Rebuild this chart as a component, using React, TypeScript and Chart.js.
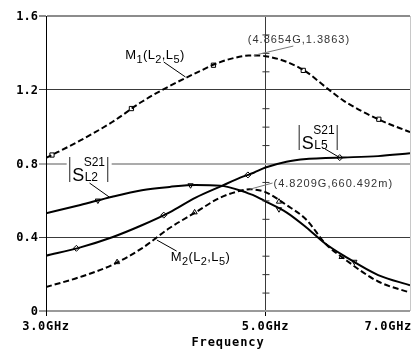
import React, { useEffect, useRef } from "react";
import { Chart, registerables } from "chart.js";
Chart.register(...registerables);

// ---- data (GHz, magnitude) ----
const freqs = [3.0, 3.25, 3.5, 3.75, 4.0, 4.25, 4.5, 4.75, 4.8209, 4.8654, 5.0, 5.25, 5.5, 5.75, 6.0, 6.5, 7.0];
const m1Vals = [0.83, 0.925, 1.025, 1.135, 1.22, 1.29, 1.35, 1.383, 1.3858, 1.3863, 1.382, 1.352, 1.297, 1.215, 1.14, 1.04, 0.97];
const s21L2Vals = [0.53, 0.575, 0.62, 0.655, 0.673, 0.684, 0.68, 0.648, 0.635, 0.627, 0.595, 0.535, 0.453, 0.365, 0.30, 0.195, 0.14];
const s21L5Vals = [0.30, 0.345, 0.40, 0.465, 0.535, 0.615, 0.675, 0.73, 0.742, 0.75, 0.778, 0.81, 0.825, 0.83, 0.833, 0.84, 0.855];
const m2Vals = [0.13, 0.185, 0.25, 0.34, 0.45, 0.535, 0.615, 0.656, 0.6605, 0.659, 0.645, 0.575, 0.495, 0.365, 0.285, 0.16, 0.10];

// marker symbols along the curves
const m1MarkFreqs = [3.042, 3.66, 4.43, 5.46, 6.51];
const m1MarkVals = [0.846, 1.098, 1.333, 1.305, 1.04];
const l2MarkFreqs = [3.385, 4.2, 5.16, 6.15];
const l2MarkVals = [0.599, 0.682, 0.552, 0.267];
const l5MarkFreqs = [3.22, 3.946, 4.8, 5.944];
const l5MarkVals = [0.34, 0.52, 0.738, 0.832];
const m2MarkFreqs = [3.54, 4.24, 5.16, 5.97];
const m2MarkVals = [0.265, 0.535, 0.593, 0.293];

const xTicks = [3, 5, 7];
const xTickLabels = ["3.0GHz", "5.0GHz", "7.0GHz"];
const yTicks = [0, 0.4, 0.8, 1.2, 1.6];
const yTickLabels = ["0", "0.4", "0.8", "1.2", "1.6"];
const xTitle = "Frequency";

const peak1 = { f: 4.8654, v: 1.3863, label: "(4.8654G,1.3863)" };
const peak2 = { f: 4.8209, v: 0.660492, label: "(4.8209G,660.492m)" };

const MONO = '"DejaVu Sans Mono", monospace';
const SANS = '"Liberation Sans", Arial, sans-serif';

const near = (a: number, b: number) => Math.abs(a - b) < 1e-6;

const yGridColor = (v: number) =>
  near(v, 0) ? "#9a9a9a" : near(v, 0.8) ? "#ababab" : near(v, 1.6) ? "#8c8c8c" : "#3a3a3a";
const yGridWidth = (v: number) => (near(v, 0) || near(v, 0.8) || near(v, 1.6) ? 2 : 1);

function rich(ctx: CanvasRenderingContext2D, x: number, y: number, parts: { t: string; s: number; dy?: number }[]) {
  let cx = x;
  for (const p of parts) {
    ctx.font = `${p.s}px ${SANS}`;
    ctx.fillText(p.t, cx, y + (p.dy || 0));
    cx += ctx.measureText(p.t).width + 0.4;
  }
}

function sLabel(ctx: CanvasRenderingContext2D, x: number, y: number, sub: string, bg: boolean) {
  if (bg) {
    ctx.fillStyle = "#fff";
    ctx.fillRect(x - 3, y - 2, 45, 30);
  }
  ctx.strokeStyle = "#555";
  ctx.lineWidth = 1.3;
  ctx.setLineDash([]);
  ctx.beginPath();
  ctx.moveTo(x, y);
  ctx.lineTo(x, y + 25);
  ctx.moveTo(x + 38, y);
  ctx.lineTo(x + 38, y + 25);
  ctx.stroke();
  ctx.fillStyle = "#000";
  ctx.textAlign = "left";
  ctx.textBaseline = "alphabetic";
  ctx.font = `18px ${SANS}`;
  ctx.fillText("S", x + 2.5, y + 24);
  ctx.font = `12px ${SANS}`;
  ctx.fillText("S21", x + 14, y + 9);
  ctx.fillText(sub, x + 15, y + 24);
}

const decor = {
  id: "decor",
  afterDatasetsDraw(chart: any) {
    const ctx: CanvasRenderingContext2D = chart.ctx;
    const xs = chart.scales.x;
    const ys = chart.scales.y;
    const P = (f: number, v: number): [number, number] => [xs.getPixelForValue(f), ys.getPixelForValue(v)];
    const seg = (a: [number, number], b: [number, number], color: string) => {
      ctx.strokeStyle = color;
      ctx.lineWidth = 1;
      ctx.setLineDash([]);
      ctx.beginPath();
      ctx.moveTo(a[0], a[1]);
      ctx.lineTo(b[0], b[1]);
      ctx.stroke();
    };
    ctx.save();

    // minor ticks on the 5 GHz line
    const x5 = xs.getPixelForValue(5);
    ctx.strokeStyle = "#333";
    ctx.lineWidth = 1;
    for (let k = 1; k < 16; k++) {
      if (k % 4 === 0) continue;
      const y = ys.getPixelForValue(k / 10);
      ctx.beginPath();
      ctx.moveTo(x5 - 3, y + 0.5);
      ctx.lineTo(x5 + 4, y + 0.5);
      ctx.stroke();
    }

    // tick labels
    ctx.fillStyle = "#000";
    ctx.font = `bold 12px ${MONO}`;
    ctx.textBaseline = "middle";
    ctx.textAlign = "right";
    yTicks.forEach((v, i) => {
      ctx.fillText(yTickLabels[i], xs.left - 8, ys.getPixelForValue(v) + 1);
    });
    ctx.textBaseline = "alphabetic";
    (ctx as any).letterSpacing = "0.7px";
    xTicks.forEach((f, i) => {
      const px = xs.getPixelForValue(f);
      if (i === xTicks.length - 1) {
        ctx.textAlign = "right";
        ctx.fillText(xTickLabels[i], px + 2, ys.bottom + 19);
      } else {
        ctx.textAlign = "center";
        ctx.fillText(xTickLabels[i], px, ys.bottom + 19);
      }
    });
    ctx.textAlign = "center";
    (ctx as any).letterSpacing = "0.9px";
    ctx.fillText(xTitle, (xs.left + xs.right) / 2, ys.bottom + 35);
    (ctx as any).letterSpacing = "0px";

    // |S21 L2| label (white box over the grid line)
    const l2 = P(3.17, 0.835);
    sLabel(ctx, l2[0], l2[1], "L2", true);
    seg(P(3.32, 0.694), P(3.476, 0.618), "#000");

    // |S21 L5| label
    const l5 = P(5.409, 1.009);
    sLabel(ctx, l5[0], l5[1], "L5", false);
    seg(P(5.743, 0.879), P(5.944, 0.832), "#000");

    // M1(L2,L5)
    ctx.fillStyle = "#000";
    ctx.textAlign = "left";
    const m1p = P(3.607, 1.367);
    rich(ctx, m1p[0], m1p[1], [
      { t: "M", s: 13 }, { t: "1", s: 11, dy: 4 }, { t: "(", s: 13 }, { t: "L", s: 13 }, { t: "2", s: 11, dy: 4 },
      { t: ",", s: 13 }, { t: "L", s: 13 }, { t: "5", s: 11, dy: 4 }, { t: ")", s: 13 },
    ]);
    seg(P(3.946, 1.3505), P(4.151, 1.269), "#000");

    // M2(L2,L5)
    const m2p = P(4.01, 0.271);
    rich(ctx, m2p[0], m2p[1], [
      { t: "M", s: 13 }, { t: "2", s: 11, dy: 4 }, { t: "(", s: 13 }, { t: "L", s: 13 }, { t: "2", s: 11, dy: 4 },
      { t: ",", s: 13 }, { t: "L", s: 13 }, { t: "5", s: 11, dy: 4 }, { t: ")", s: 13 },
    ]);
    seg(P(3.883, 0.385), P(4.066, 0.325), "#000");

    // peak read-outs
    ctx.fillStyle = "#333";
    ctx.font = `11px ${SANS}`;
    (ctx as any).letterSpacing = "1px";
    const t1 = P(4.799, 1.454);
    ctx.fillText(peak1.label, t1[0], t1[1]);
    seg(P(peak1.f, peak1.v), P(5.335, 1.437), "#777");
    const t2 = P(5.095, 0.6725);
    ctx.fillText(peak2.label, t2[0], t2[1]);
    seg(P(peak2.f, peak2.v), P(5.083, 0.694), "#777");
    (ctx as any).letterSpacing = "0px";

    ctx.restore();
  },
};

export default function App() {
  const ref = useRef<HTMLCanvasElement>(null);
  useEffect(() => {
    const line = (vals: number[], dashed: boolean) => ({
      data: freqs.map((f, i) => ({ x: f, y: vals[i] })),
      borderColor: "#000",
      backgroundColor: "#000",
      borderWidth: 2,
      borderDash: dashed ? [6, 3] : [],
      pointRadius: 0,
      cubicInterpolationMode: "monotone" as const,
      fill: false,
    });
    const marks = (fs: number[], vs: number[], style: string, rot: number) => ({
      data: fs.map((f, i) => ({ x: f, y: vs[i] })),
      showLine: false,
      pointStyle: style,
      rotation: rot,
      pointRadius: 3,
      pointBorderWidth: 1,
      pointBorderColor: "#000",
      pointBackgroundColor: "#fff",
      borderColor: "#000",
      backgroundColor: "#fff",
    });
    const chart = new Chart(ref.current!, {
      type: "line",
      data: {
        datasets: [
          line(m1Vals, true),
          line(s21L2Vals, false),
          line(s21L5Vals, false),
          line(m2Vals, true),
          marks(m1MarkFreqs, m1MarkVals, "rect", 0),
          marks(l2MarkFreqs, l2MarkVals, "triangle", 180),
          marks(l5MarkFreqs, l5MarkVals, "rectRot", 0),
          marks(m2MarkFreqs, m2MarkVals, "triangle", 0),
        ] as any,
      },
      options: {
        animation: false,
        responsive: false,
        devicePixelRatio: 1,
        layout: { padding: { top: 16, right: 1, left: 0, bottom: 0 } },
        plugins: { legend: { display: false }, tooltip: { enabled: false } },
        scales: {
          x: {
            type: "logarithmic",
            min: 3,
            max: 7,
            afterBuildTicks: (s: any) => {
              s.ticks = xTicks.map((v) => ({ value: v }));
            },
            afterFit: (s: any) => {
              s.height = 43;
            },
            ticks: { display: false },
            border: { display: false },
            grid: {
              color: (c: any) => (near(c.tick?.value, 3) ? "rgba(0,0,0,0)" : near(c.tick?.value, 5) ? "#3a3a3a" : "#c8c8c8"),
              tickColor: (c: any) => (near(c.tick?.value, 7) ? "rgba(0,0,0,0)" : "#000"),
              lineWidth: 1,
              drawTicks: true,
              tickLength: 5,
            },
          },
          y: {
            type: "linear",
            min: 0,
            max: 1.6,
            afterBuildTicks: (s: any) => {
              s.ticks = yTicks.map((v) => ({ value: v }));
            },
            afterFit: (s: any) => {
              s.width = 46;
            },
            ticks: { display: false },
            border: { display: true, color: "#000", width: 1 },
            grid: {
              color: (c: any) => yGridColor(c.tick?.value ?? 0),
              tickColor: (c: any) => yGridColor(c.tick?.value ?? 0),
              lineWidth: (c: any) => yGridWidth(c.tick?.value ?? 0),
              drawTicks: true,
              tickLength: 7,
            },
          },
        },
      } as any,
      plugins: [decor],
    });
    return () => chart.destroy();
  }, []);
  return (
    <div style={{ position: "fixed", left: 0, top: 0, width: 415, height: 354, background: "#fff" }}>
      <canvas ref={ref} width={415} height={354} style={{ display: "block", width: 415, height: 354 }} />
    </div>
  );
}
